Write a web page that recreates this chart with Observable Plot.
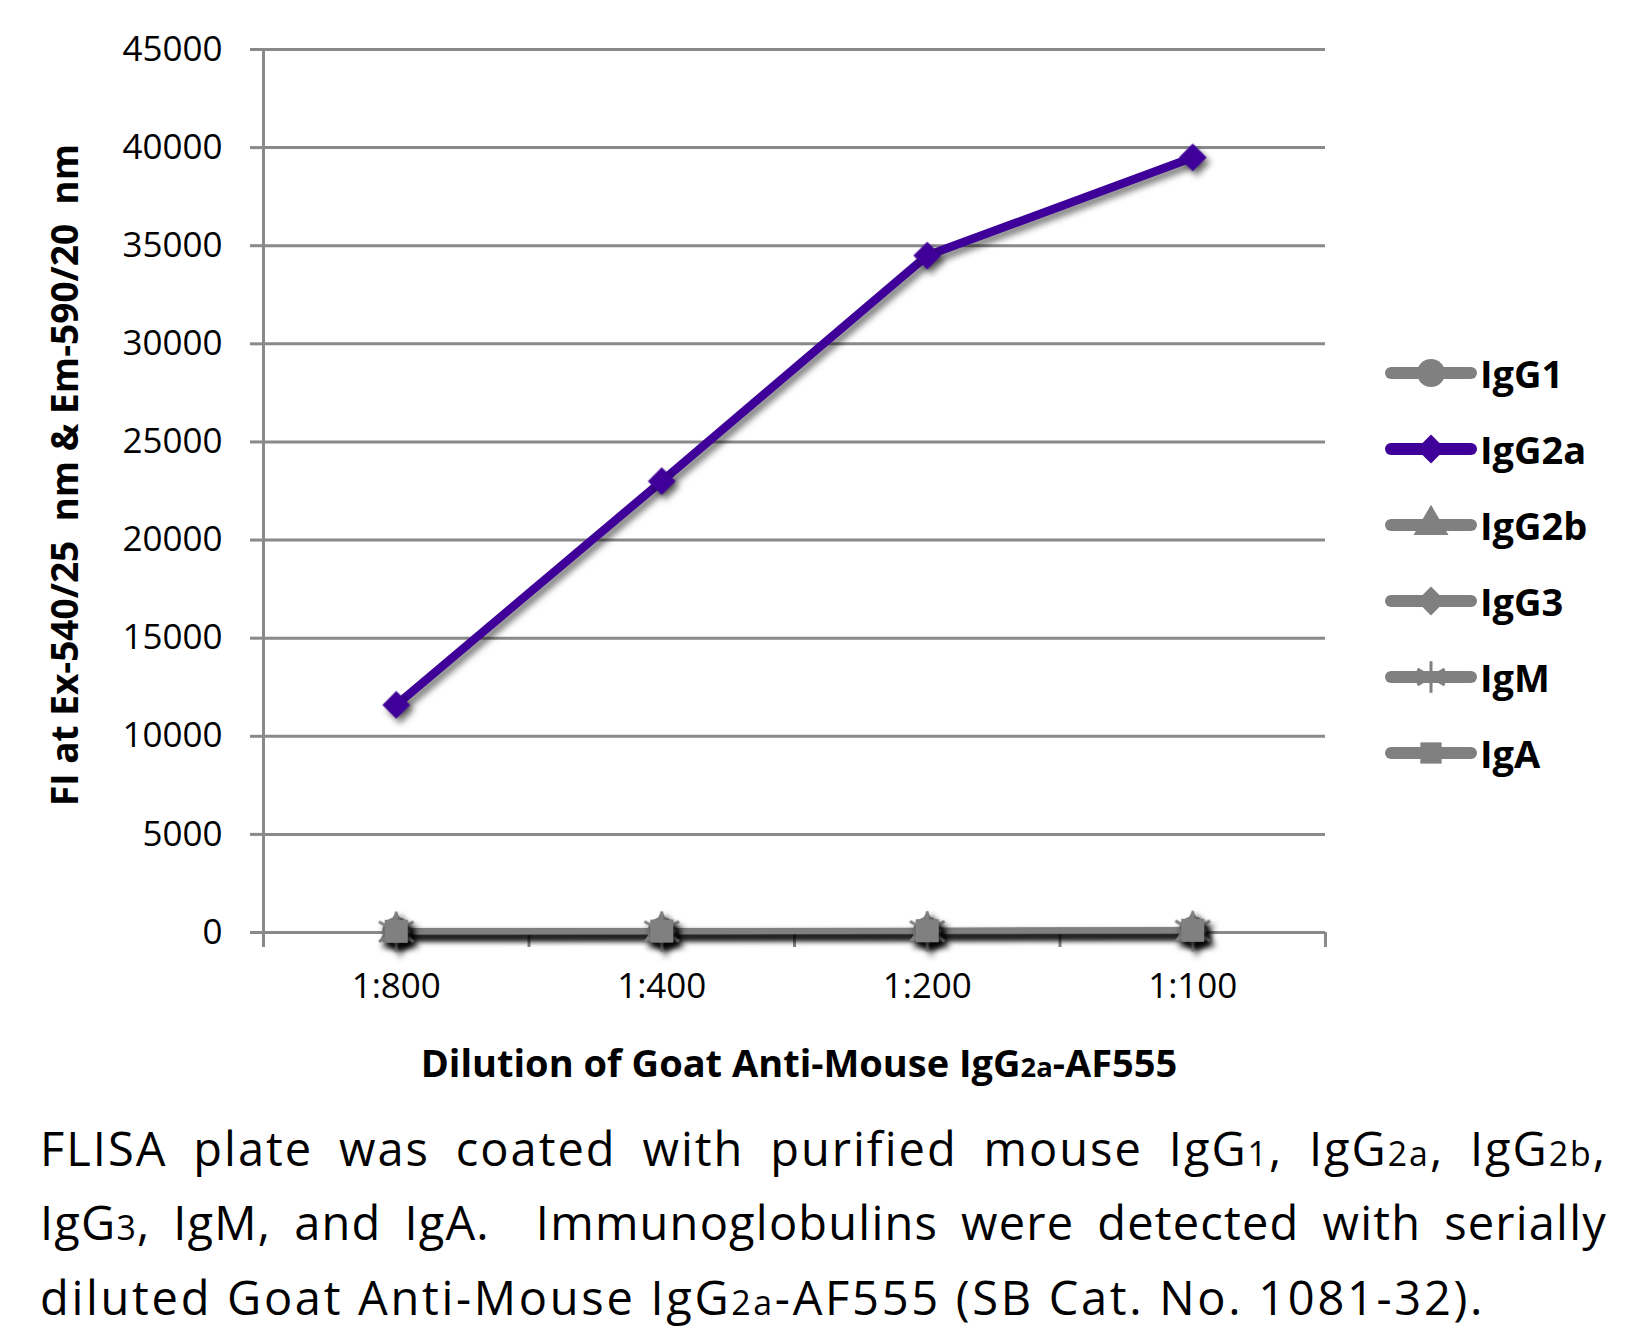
<!DOCTYPE html>
<html><head><meta charset="utf-8">
<script src="https://cdn.jsdelivr.net/npm/d3@7"></script>
<script src="https://cdn.jsdelivr.net/npm/@observablehq/plot@0.6"></script>
<style>
body{margin:0;background:#fff;font-family:"Open Sans",Lato,sans-serif;color:#000;}
#wrap{position:relative;width:1633px;height:1328px;overflow:hidden;}
#chart svg text{white-space:pre;}
.shadow{filter:drop-shadow(4px 5px 3px rgba(0,0,0,0.5));}
.shadowDark{filter:drop-shadow(4px 5px 3px rgba(0,0,0,0.7));}
#xtitle{position:absolute;left:0;width:1598px;text-align:center;top:1043px;font-weight:bold;font-size:38px;line-height:38px;}
.sub{font-size:0.72em;}
#legend{position:absolute;left:1380px;top:335px;}
.row{display:flex;align-items:center;height:76px;}
.row span{font-weight:bold;font-size:38px;line-height:38px;}
#caption{position:absolute;left:40px;width:1567px;top:1114px;font-size:47px;line-height:69px;}
.j{text-align:justify;text-align-last:justify;}
#c1{letter-spacing:2px;}
#c2{letter-spacing:1.2px;}
#c3{letter-spacing:2.7px;white-space:nowrap;line-height:60px;}
</style>
</head><body>
<div id="wrap">
<div id="chart"></div>
<div id="xtitle">Dilution of Goat Anti-Mouse IgG<span class="sub">2a</span>-AF555</div>
<div id="legend"></div>
<div id="caption">
<div id="c1" class="j">FLISA plate was coated with purified mouse IgG<span class="sub">1</span>, IgG<span class="sub">2a</span>, IgG<span class="sub">2b</span>,</div>
<div id="c2" class="j">IgG<span class="sub">3</span>, IgM, and IgA.&nbsp; Immunoglobulins were detected with serially</div>
<div id="c3" style="margin-top:4.5px">diluted Goat Anti-Mouse IgG<span class="sub">2a</span>-AF555 (SB Cat. No. 1081-32).</div>
</div>
</div>
<script>
// ---- data ----
const categories = ["1:800", "1:400", "1:200", "1:100"];
const seriesNames = ["IgG1", "IgG2a", "IgG2b", "IgG3", "IgM", "IgA"];
const IgG1 = [60, 70, 80, 100];
const IgG2a = [11600, 23000, 34500, 39500];
const IgG2b = [50, 60, 70, 90];
const IgG3 = [50, 60, 80, 100];
const IgM = [40, 50, 60, 80];
const IgA = [60, 70, 90, 110];
const yTicks = [0, 5000, 10000, 15000, 20000, 25000, 30000, 35000, 40000, 45000];
const yTitle = "FI at Ex-540/25  nm & Em-590/20  nm";

// ---- styles ----
const seriesValues = {IgG1, IgG2a, IgG2b, IgG3, IgM, IgA};
const GRAY = "#808080", PURPLE = "#3f0099", GRID = "#898989";
const symbolOf = {IgG1: "circle", IgG2a: "diamond2", IgG2b: "triangle", IgG3: "diamond2", IgM: "asterisk", IgA: "square"};
const rOf = {IgG1: 14, IgG2a: 12.5, IgG2b: 13, IgG3: 13, IgM: 19, IgA: 13};
const colorOf = name => name === "IgG2a" ? PURPLE : GRAY;

const rows = seriesNames.flatMap(s => categories.map((c, i) => ({series: s, cat: c, xi: i + 0.5, value: seriesValues[s][i]})));
const bounds = d3.range(categories.length + 1);
const centers = categories.map((c, i) => i + 0.5);

const marks = [
  Plot.gridY(yTicks, {stroke: GRID, strokeWidth: 3, strokeOpacity: 1}),
  Plot.ruleX([0], {stroke: GRID, strokeWidth: 3}),
  Plot.axisY(yTicks, {tickSize: 13, tickPadding: 28, stroke: GRID, strokeWidth: 3, fill: "black", fontSize: 35, tickFormat: d => String(d), label: null}),
  Plot.axisX(bounds, {tickSize: 15, stroke: GRID, strokeWidth: 3, tickFormat: () => "", label: null}),
  Plot.axisX(centers, {tickSize: 0, tickPadding: 41, fill: "black", fontSize: 35, tickFormat: d => categories[Math.round(d - 0.5)], label: null}),
  Plot.text([yTitle], {frameAnchor: "left", textAnchor: "middle", rotate: -90, dx: -197, dy: -16, fontWeight: "bold", fontSize: 37, fill: "black"})
];
const order = seriesNames.filter(s => s !== "IgG2a").concat(["IgG2a"]);
for (const s of order) {
  const d = rows.filter(r => r.series === s);
  marks.push(Plot.line(d, {x: "xi", y: "value", stroke: colorOf(s), strokeWidth: s === "IgG2a" ? 8.5 : 6, className: "shadow"}));
}
for (const s of order) {
  const d = rows.filter(r => r.series === s);
  const sym = symbolOf[s];
  const isStroke = sym === "asterisk";
  marks.push(Plot.dot(d, {x: "xi", y: "value", symbol: sym, r: rOf[s],
    fill: isStroke ? "none" : colorOf(s), stroke: isStroke ? colorOf(s) : "none", strokeWidth: isStroke ? 3 : 0,
    className: s === "IgG2a" ? "shadow" : "shadowDark"}));
}

const chart = Plot.plot({
  width: 1633, height: 1100,
  marginLeft: 263, marginRight: 308, marginTop: 49, marginBottom: 168,
  style: {fontFamily: "'Open Sans', Lato, sans-serif", background: "white", color: "black"},
  x: {domain: [0, categories.length], axis: null},
  y: {domain: [0, 45000], axis: null},
  marks
});
document.getElementById("chart").appendChild(chart);

// ---- legend ----
const leg = d3.select("#legend");
const symMap = {circle: d3.symbolCircle, diamond2: d3.symbolDiamond2, triangle: d3.symbolTriangle, asterisk: d3.symbolAsterisk, square: d3.symbolSquare};
const legR = {IgG1: 14, IgG2a: 13, IgG2b: 13, IgG3: 13, IgM: 15, IgA: 12};
for (const s of seriesNames) {
  const row = leg.append("div").attr("class", "row");
  const svg = row.append("svg").attr("width", 100).attr("height", 44);
  svg.append("line").attr("x1", 11).attr("x2", 91).attr("y1", 22).attr("y2", 22)
    .attr("stroke", colorOf(s)).attr("stroke-width", 12).attr("stroke-linecap", "round");
  const sym = symbolOf[s];
  const isStroke = sym === "asterisk";
  svg.append("path").attr("transform", "translate(51,22)")
    .attr("d", d3.symbol(symMap[sym], Math.PI * legR[s] * legR[s])())
    .attr("fill", isStroke ? "none" : colorOf(s))
    .attr("stroke", isStroke ? colorOf(s) : "none").attr("stroke-width", 3);
  row.append("span").text(s);
}
</script>
</body></html>
